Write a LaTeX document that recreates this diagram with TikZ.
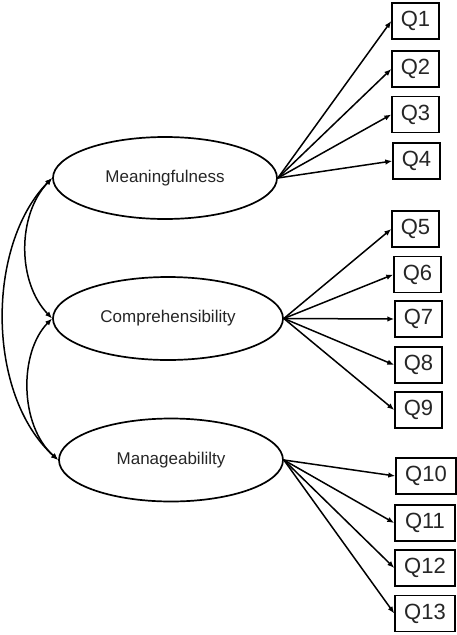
\documentclass[tikz,border=0pt]{standalone}
\usepackage{fontspec}
\setmainfont{Liberation Sans}
\usetikzlibrary{shapes.geometric,arrows.meta}
\begin{document}
\begin{tikzpicture}[x=1pt,y=-1pt,
  latent/.style={draw,ellipse,line width=1.7pt,inner sep=0pt,font=\fontsize{17}{19}\selectfont,text=black!85},
  item/.style={draw,rectangle,line width=1.4pt,inner sep=0pt,minimum height=36pt,font=\fontsize{22}{25}\selectfont,text=black!85},
  load/.style={line width=1.5pt,-{Latex[length=7pt,width=5.5pt]}},
  cov/.style={line width=1.5pt,{Latex[length=7pt,width=5.5pt]}-{Latex[length=7pt,width=5.5pt]}}]
\useasboundingbox[fill=white] (0,0) rectangle (457,635);
\node[latent,minimum width=224pt,minimum height=82pt] (M) at (165,178) {Meaningfulness};
\node[latent,minimum width=230pt,minimum height=83pt] (C) at (168,318.5) {Comprehensibility};
\node[latent,minimum width=224pt,minimum height=83pt] (G) at (171,460) {Manageabililty};
\node[item,minimum width=47pt] (q1) at (415.5,21) {Q1};
\node[item,minimum width=47pt] (q2) at (415.5,69) {Q2};
\node[item,minimum width=47pt] (q3) at (415.5,114.5) {Q3};
\node[item,minimum width=47pt] (q4) at (416.5,161) {Q4};
\node[item,minimum width=47pt] (q5) at (415.5,229) {Q5};
\node[item,minimum width=47pt] (q6) at (417.5,274.5) {Q6};
\node[item,minimum width=47pt] (q7) at (418.5,319) {Q7};
\node[item,minimum width=47pt] (q8) at (418.5,365) {Q8};
\node[item,minimum width=47pt] (q9) at (418.5,410) {Q9};
\node[item,minimum width=60pt] (q10) at (426,476) {Q10};
\node[item,minimum width=60pt] (q11) at (425,523) {Q11};
\node[item,minimum width=60pt] (q12) at (425,568) {Q12};
\node[item,minimum width=60pt] (q13) at (425,613.5) {Q13};
\foreach \q in {q1,q2,q3,q4}{\draw[load] (M.east) -- (\q.west);}
\foreach \q in {q5,q6,q7,q8,q9}{\draw[load] (C.east) -- (\q.west);}
\foreach \q in {q10,q11,q12,q13}{\draw[load] (G.east) -- (\q.west);}
\draw[cov] (M.west) .. controls (17,215) and (17,282) .. (C.west);
\draw[cov] (M.west) .. controls (-14,245) and (-14,395) .. (G.west);
\draw[cov] (C.west) .. controls (19,352) and (19,425) .. (G.west);
\end{tikzpicture}
\end{document}
